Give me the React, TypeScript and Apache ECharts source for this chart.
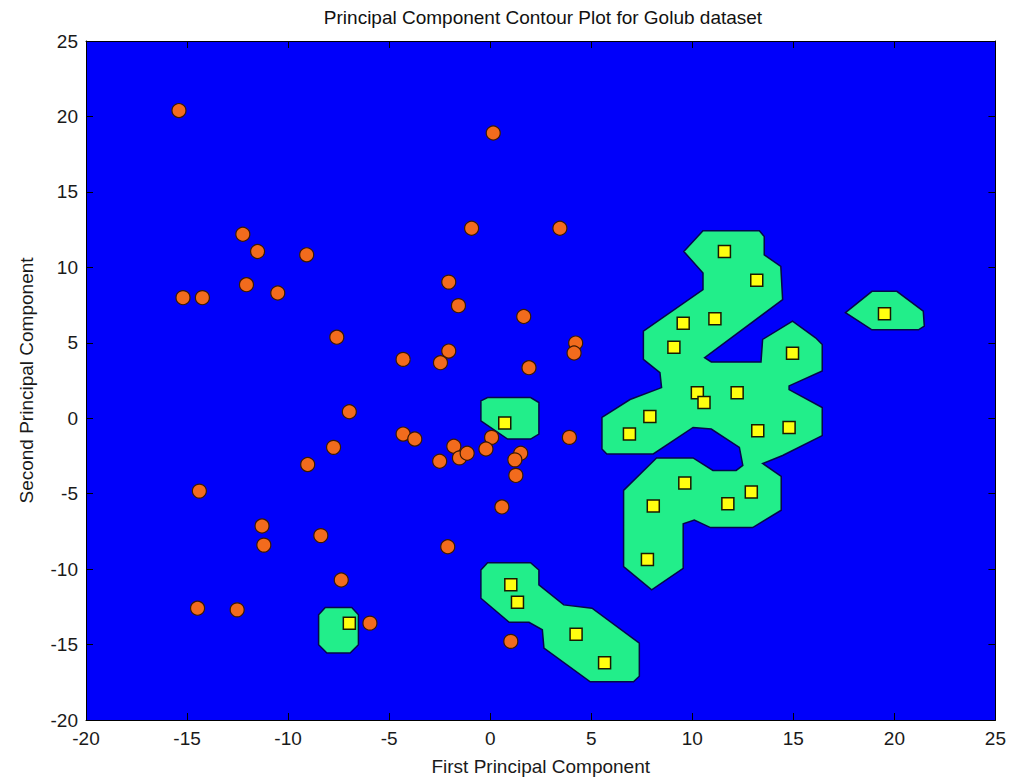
import React, { useEffect, useRef } from "react";
import * as echarts from "echarts";

// ALL samples (orange circles)
const allX = [
  -15.4, 0.15, -12.24, -0.92, -11.51, -9.08, -12.06, -15.2, -14.24, -10.51,
  -2.05, -1.57, 1.66, -7.59, -4.31, -2.05, -2.46, 1.92, 3.45, 4.23,
  4.15, 3.92, 0.07, -0.21, 1.51, 1.22, 1.27, 0.58, 1.02, -6.97,
  -4.31, -3.73, -7.75, -9.03, -1.8, -2.5, -1.52, -1.14, -14.39, -11.29,
  -11.2, -8.38, -2.1, -7.37, -14.48, -12.52, -5.95,
];
const allY = [
  20.39, 18.9, 12.19, 12.59, 11.05, 10.83, 8.85, 7.99, 7.99, 8.3,
  9.02, 7.46, 6.74, 5.37, 3.9, 4.45, 3.68, 3.35, 12.59, 4.98,
  4.32, -1.27, -1.27, -2.04, -2.32, -2.76, -3.79, -5.88, -14.79, 0.43,
  -1.05, -1.38, -1.93, -3.07, -1.86, -2.85, -2.63, -2.32, -4.83, -7.14,
  -8.41, -7.78, -8.52, -10.72, -12.59, -12.7, -13.58,
];

// AML samples (yellow squares)
const amlX = [
  11.59, 13.19, 9.55, 11.12, 9.09, 14.96, 19.51, 10.25, 10.58, 12.22,
  7.9, 6.89, 13.24, 14.79, 0.72, 9.63, 12.92, 8.07, 11.76, 7.78,
  1.02, 1.35, 4.25, 5.66, -6.97,
];
const amlY = [
  11.05, 9.14, 6.3, 6.6, 4.71, 4.3, 6.93, 1.68, 1.04, 1.68,
  0.12, -1.05, -0.83, -0.61, -0.32, -4.3, -4.89, -5.82, -5.66, -9.36,
  -11.03, -12.19, -14.31, -16.2, -13.58,
];

// Contour (decision region) outlines, in data coordinates
const contourMain = [
  [10.53, 12.43], [13.32, 12.43], [13.56, 12.04], [13.56, 10.83], [14.38, 10.06],
  [14.47, 7.86], [10.61, 4.01], [10.94, 3.73], [13.4, 3.73], [13.48, 5.22],
  [14.96, 6.43], [16.1, 5.33], [16.43, 4.89], [16.43, 3.13], [14.79, 2.14],
  [14.79, 1.9], [16.43, 0.71], [16.43, -1.15], [14.47, -2.47], [13.48, -3.0],
  [14.4, -3.85], [14.4, -6.1], [12.99, -7.25], [10.9, -7.25], [10.1, -6.75],
  [9.55, -7.0], [9.55, -9.95], [7.99, -11.38], [6.6, -9.84], [6.6, -4.78],
  [8.23, -2.63], [10.04, -2.63], [11.02, -3.46], [12.17, -3.46], [12.5, -3.13],
  [12.33, -1.93], [10.94, -0.72], [10.04, -0.61], [8.07, -2.37], [5.77, -2.37],
  [5.53, -2.04], [5.53, 0.05], [6.92, 1.24], [8.48, 2.03], [8.4, 3.02],
  [7.58, 3.9], [7.58, 5.77], [10.53, 8.52], [10.53, 9.62], [9.58, 11.05],
];
const contourIsland = [
  [17.58, 7.0], [18.89, 8.41], [20.12, 8.41], [21.43, 7.09], [21.48, 6.1],
  [21.19, 5.86], [18.89, 5.86],
];
const contourCenter = [
  [-0.46, 1.15], [-0.13, 1.37], [2.0, 1.37], [2.41, 1.04], [2.41, -1.05],
  [2.0, -1.38], [0.86, -1.38], [-0.46, -0.17],
];
const contourLowerLeft = [
  [-8.16, -12.55], [-6.85, -12.55], [-6.52, -13.03], [-6.52, -15.01],
  [-6.93, -15.56], [-8.08, -15.56], [-8.49, -15.01], [-8.49, -13.03],
];
const contourBottom = [
  [-0.46, -10.06], [-0.13, -9.58], [2.0, -9.58], [2.41, -10.06], [2.41, -11.05],
  [3.64, -12.37], [5.04, -12.59], [7.38, -14.9], [7.38, -17.1], [7.09, -17.47],
  [4.95, -17.47], [2.66, -15.23], [2.58, -14.02], [1.92, -13.52], [0.94, -13.52],
  [-0.46, -11.93],
];

const axisMin = -20;
const axisMax = 25;
const axisStep = 5;

const titleText = "Principal Component Contour Plot for Golub dataset";
const xName = "First Principal Component";
const yName = "Second Principal Component";

const FONT = "'Liberation Sans', Arial, Helvetica, sans-serif";

export default function App() {
  const ref = useRef<HTMLDivElement>(null);

  useEffect(() => {
    if (!ref.current) return;
    const chart = echarts.init(ref.current, undefined, { renderer: "svg" });
    const regions = [contourMain, contourIsland, contourCenter, contourLowerLeft, contourBottom];

    const baseAxis = {
      type: "value" as const,
      min: axisMin,
      max: axisMax,
      interval: axisStep,
      splitLine: { show: false },
      axisLine: { show: true, onZero: false, lineStyle: { color: "#000", width: 1 } },
      axisTick: { show: true, inside: true, length: 7, lineStyle: { color: "#000", width: 1 } },
    };
    const labelStyle = { color: "#1a1a1a", fontSize: 19, fontFamily: FONT };

    chart.setOption({
      animation: false,
      backgroundColor: "#ffffff",
      grid: {
        left: 86,
        top: 41,
        right: 8,
        bottom: 57,
        show: true,
        backgroundColor: "#0000fa",
        borderWidth: 0,
      },
      graphic: [
        {
          type: "text",
          x: 543,
          y: 17,
          style: {
            text: titleText,
            fill: "#111",
            font: `19px ${FONT}`,
            align: "center",
            verticalAlign: "middle",
          },
        },
      ],
      xAxis: [
        {
          ...baseAxis,
          position: "bottom",
          axisLabel: { ...labelStyle, margin: 9 },
          name: xName,
          nameLocation: "middle",
          nameGap: 37,
          nameTextStyle: { ...labelStyle },
        },
        {
          ...baseAxis,
          position: "top",
          axisLabel: { show: false },
        },
      ],
      yAxis: [
        {
          ...baseAxis,
          position: "left",
          axisLabel: { ...labelStyle, margin: 8 },
          name: yName,
          nameLocation: "middle",
          nameGap: 50,
          nameTextStyle: { ...labelStyle },
        },
        {
          ...baseAxis,
          position: "right",
          axisLabel: { show: false },
        },
      ],
      series: [
        {
          type: "custom",
          coordinateSystem: "cartesian2d",
          xAxisIndex: 0,
          yAxisIndex: 0,
          silent: true,
          z: 1,
          data: regions.map((r, i) => [r[0][0], r[0][1], i]),
          encode: { x: 0, y: 1 },
          renderItem: (params: any, api: any) => {
            const r = regions[params.dataIndex];
            const pts = r.map((p) => api.coord(p));
            return {
              type: "polygon",
              shape: { points: pts },
              style: { fill: "#22ee8a", stroke: "#06064a", lineWidth: 1.5 },
            };
          },
        },
        {
          type: "scatter",
          xAxisIndex: 0,
          yAxisIndex: 0,
          z: 3,
          symbol: "circle",
          symbolSize: 14,
          data: allX.map((x, i) => [x, allY[i]]),
          itemStyle: { color: "#f26b1d", borderColor: "#3a1800", borderWidth: 1.2, opacity: 1 },
        },
        {
          type: "scatter",
          xAxisIndex: 0,
          yAxisIndex: 0,
          z: 4,
          symbol: "rect",
          symbolSize: 12,
          data: amlX.map((x, i) => [x, amlY[i]]),
          itemStyle: { color: "#ffff10", borderColor: "#1a1a00", borderWidth: 1.5, opacity: 1 },
        },
      ],
    });

    return () => chart.dispose();
  }, []);

  return (
    <div
      ref={ref}
      style={{ position: "absolute", left: 0, top: 0, width: 1009, height: 781, background: "#fff" }}
    />
  );
}
